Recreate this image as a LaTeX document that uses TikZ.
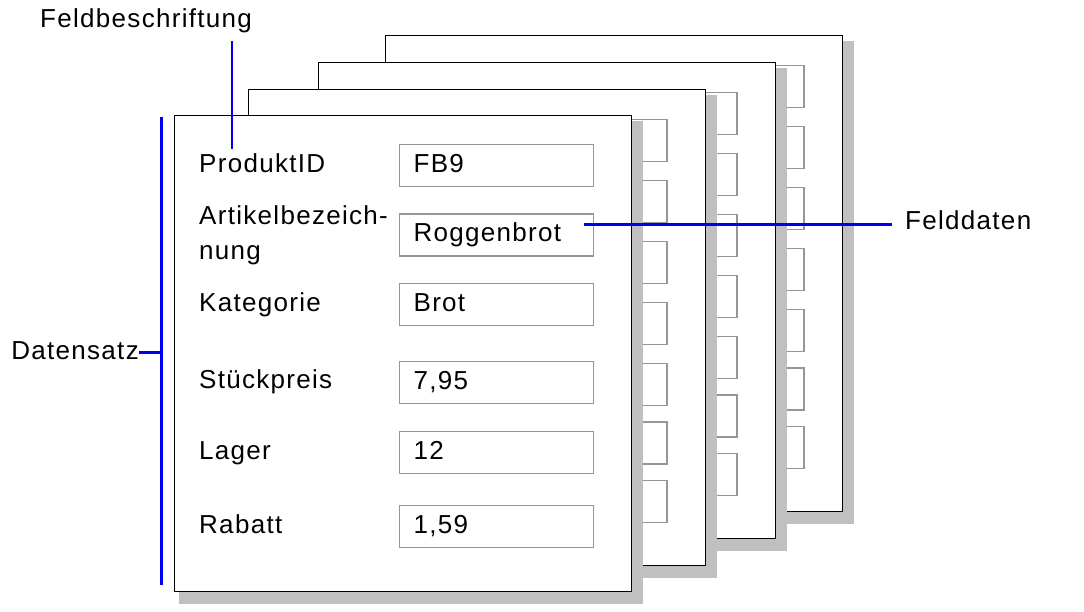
\documentclass[tikz,border=0pt]{standalone}
\usepackage{fontspec}
\setmainfont{Liberation Sans}[LetterSpace=5]
\definecolor{shadowgray}{RGB}{192,192,192}
\definecolor{boxgray}{RGB}{150,150,150}
\definecolor{markblue}{RGB}{0,0,240}
\begin{document}
\begin{tikzpicture}[x=1pt, y=-1pt,
  sheet/.style={fill=white, draw=black, line width=0.9pt},
  shade/.style={fill=shadowgray},
  fieldbox/.style={draw=boxgray, line width=1.3pt},
  marker/.style={draw=markblue, line width=2.8pt},
  caption/.style={inner sep=0pt, text height=18.5pt, text depth=5pt, font=\fontsize{26}{30}\selectfont},
  value/.style={caption, draw=boxgray, line width=1.3pt, anchor=north west, minimum width=194pt,
    minimum height=42pt, text width=166pt, inner xsep=14pt, align=left}]
\useasboundingbox (0,0) rectangle (1084,612);

\foreach \x/\y in {385/35, 318/62, 248/89}{
  \fill[shade] (\x+5,\y+6) rectangle (\x+469,\y+489);
  \draw[sheet] (\x,\y) rectangle (\x+457,\y+476);
  \foreach \t in {30.5, 91.5, 152.5, 213.5, 274.5, 333, 391.5}
    \draw[fieldbox] (\x+225,\y+\t) rectangle (\x+419,\y+\t+42);
}
\fill[shade] (179,121) rectangle (643,604);
\draw[sheet] (174,115) rectangle (631,591);

\node[caption, anchor=base west] (pid) at (199,172.7) {ProduktID};
\node[caption, anchor=base west] (art) at (199,225) {Artikelbezeich-};
\node[caption, anchor=base west] (art2) at (199,260) {nung};
\node[caption, anchor=base west] (kat) at (199,311.7) {Kategorie};
\node[caption, anchor=base west] (preis) at (199,388.3) {Stückpreis};
\node[caption, anchor=base west] (lager) at (199,459.3) {Lager};
\node[caption, anchor=base west] (rabatt) at (199,533) {Rabatt};

\node[value] (fb9) at (399,144) {FB9};
\node[value] (roggen) at (399,213.5) {Roggenbrot};
\node[value] (brot) at (399,283) {Brot};
\node[value] (preisval) at (399,361) {7,95};
\node[value] (lagerval) at (399,431) {12};
\node[value] (rabattval) at (399,505) {1,59};

\node[caption, anchor=base west] (feldbeschr) at (40,28) {Feldbeschriftung};
\node[caption, anchor=base west] (felddaten) at (905,230) {Felddaten};
\node[caption, anchor=east] (datensatz) at (139,352.3) {Datensatz};

\coordinate (fbx) at (232,0);
\coordinate (fdstart) at ([shift={(-10pt,10.5pt)}]roggen.east);
\coordinate (dstop) at (161.5,117);
\coordinate (dsbot) at (161.5,585);
\draw[marker] ([yshift=-8pt]feldbeschr.south -| fbx) -- ([yshift=5pt]pid.north -| fbx);
\draw[marker] (fdstart) -- ([xshift=-13pt]felddaten.west |- fdstart);
\draw[marker] (dstop) -- (dsbot);
\draw[marker] (datensatz.east) -- (datensatz.east -| dstop);

\end{tikzpicture}
\end{document}
